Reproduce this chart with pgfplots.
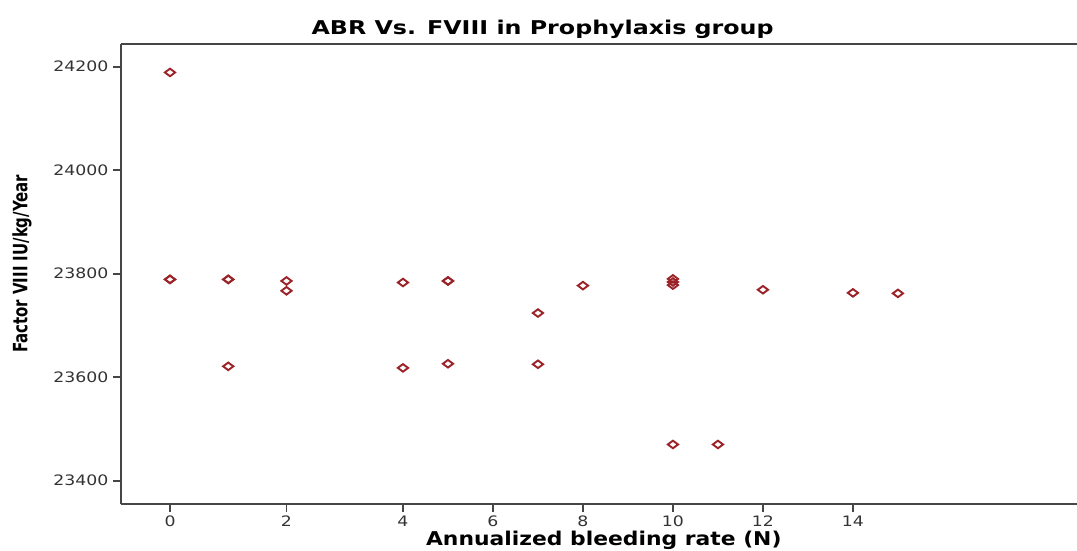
\documentclass[border=0pt]{standalone}
\usepackage{fontspec}
\setmainfont{DejaVu Sans}
\newfontfamily\condfont{DejaVu Sans Condensed}
\newfontfamily\tickfont[FakeStretch=1.2]{DejaVu Sans}
\newfontfamily\widefont[FakeStretch=1.25]{DejaVu Sans}
\newfontfamily\xlabfont[FakeStretch=1.15]{DejaVu Sans}
\usepackage{pgfplots}
\pgfplotsset{compat=1.18}
\definecolor{mk}{RGB}{155,35,40}
\definecolor{ax}{RGB}{70,70,70}
\begin{document}
\begin{tikzpicture}
\begin{axis}[
  scale only axis, width=478pt, height=230pt,
  x coord trafo/.code={\pgfmathparse{#1<4 ? 4+(#1-4)*1.2944 : #1}},
  x coord inv trafo/.code={\pgfmathparse{#1<4 ? 4+(#1-4)/1.2944 : #1}},
  xmin=-0.8415, xmax=18.98, ymin=23355, ymax=24244,
  xtick={0,2,4,6,8,10,12,14}, xticklabels={0,2,4,6,8,10,12,14},
  ytick={23400,23600,23800,24000,24200},
  yticklabels={23400,23600,23800,24000,24200},
  scaled y ticks=false,
  separate axis lines,
  axis x line*=box, axis y line*=left,
  xtick pos=bottom, ytick pos=left,
  tick align=outside,
  major tick length=3.8pt,
  every tick/.style={ax, line width=0.9pt},
  axis line style={ax, line width=1pt},
  tick label style={font=\tickfont\fontsize{7.2}{8}\selectfont, text=black!80},
  /pgf/number format/assume math mode=true,
  xticklabel shift=-1.5pt,
  yticklabel shift=-1pt,
  clip=false,
]
\addplot[only marks, mark=diamond, mark size=1.9pt,
  mark options={draw=mk, line width=0.95pt, fill=none, xscale=1.8}]
  coordinates {
  (0,24189) (0,23789) (0,23789)
  (1,23789) (1,23789) (1,23621)
  (2,23786) (2,23767)
  (4,23783) (4,23618)
  (5,23786) (5,23786) (5,23626)
  (7,23724) (7,23625)
  (8,23777)
  (10,23778) (10,23784) (10,23790) (10,23470)
  (11,23470)
  (12,23769)
  (14,23763)
  (15,23762)
  };
\coordinate (SW) at (rel axis cs:0,0);
\coordinate (NE) at (rel axis cs:1,1);
\coordinate (YL) at (rel axis cs:0,0.522);
\node[font=\widefont\bfseries\fontsize{9.5}{11}\selectfont] at (rel axis cs:0.441,1) [yshift=7.5pt] {ABR Vs. FVIII in Prophylaxis group};
\node[font=\xlabfont\bfseries\fontsize{9.5}{10}\selectfont] at (rel axis cs:0.505,0) [yshift=-18pt] {Annualized bleeding rate (N)};
\end{axis}
\node at ([xshift=-49.5pt]YL) {\rotatebox{90}{\resizebox{89pt}{7.5pt}{\condfont\bfseries Factor VIII IU/kg/Year}}};
\pgfresetboundingbox
\path[use as bounding box] ([xshift=-60.5pt,yshift=-23.5pt]SW) rectangle ([yshift=22pt]NE);
\end{tikzpicture}
\end{document}
